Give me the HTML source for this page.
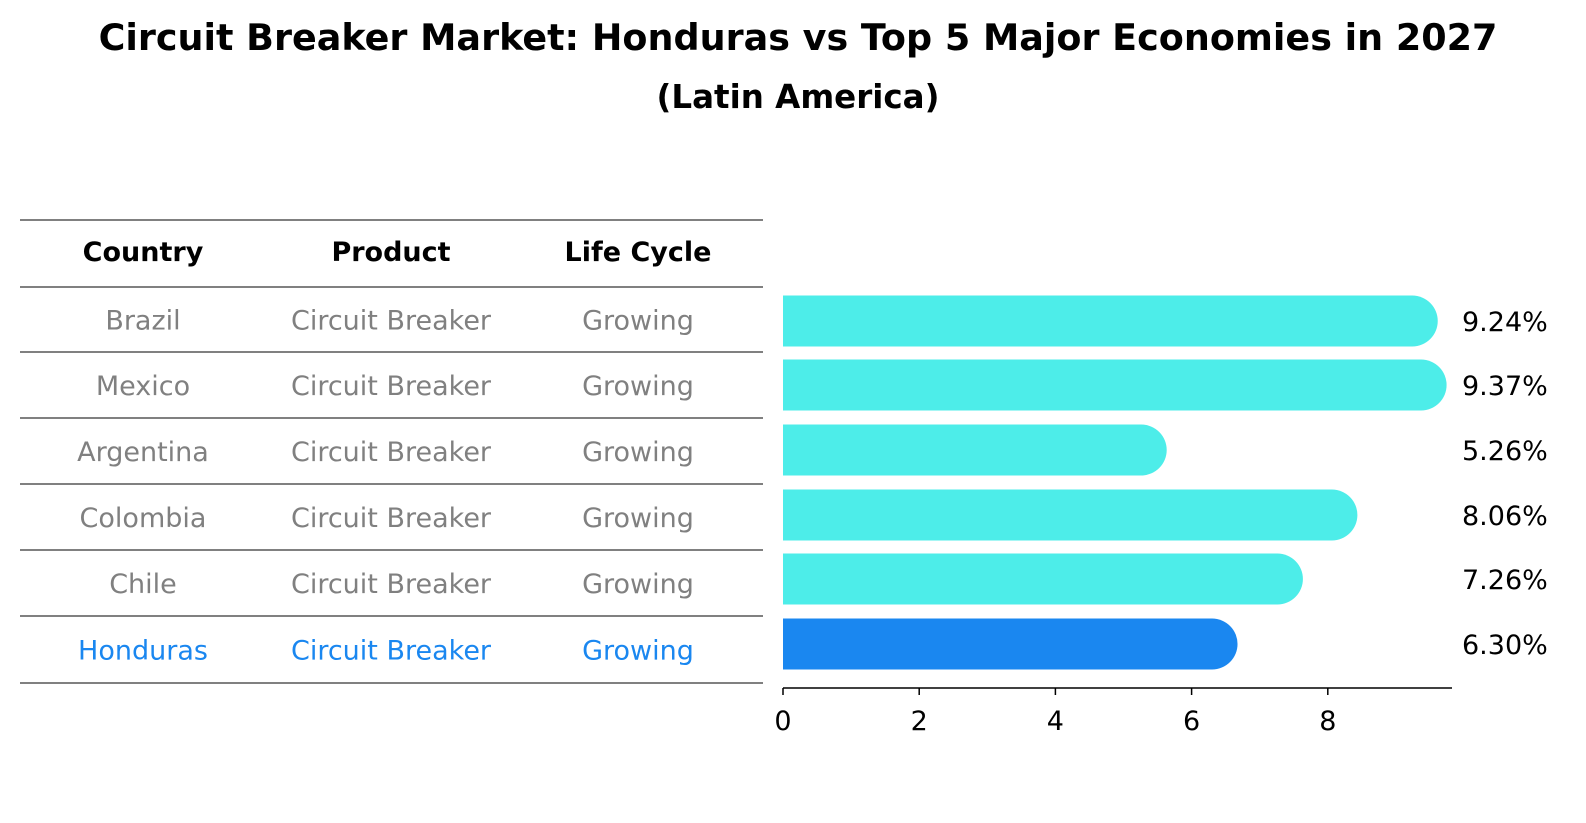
<!DOCTYPE html>
<html><head><meta charset="utf-8"><style>
html,body{margin:0;padding:0;overflow:hidden;background:#fff;font-family:"DejaVu Sans","Liberation Sans",sans-serif}
svg{display:block}
</style></head><body>
<svg id="c" width="1586" height="823" xmlns="http://www.w3.org/2000/svg" font-family="'DejaVu Sans', 'Liberation Sans', sans-serif">
<text x="798" y="50" text-anchor="middle" font-size="36.5" font-weight="bold">Circuit Breaker Market: Honduras vs Top 5 Major Economies in 2027</text>
<text x="798" y="108" text-anchor="middle" font-size="32.5" font-weight="bold">(Latin America)</text>
<g id="tbl"></g>
<g id="bars"></g>
</svg>
<script>
const countries=["Brazil","Mexico","Argentina","Colombia","Chile","Honduras"];
const values=[9.24,9.37,5.26,8.06,7.26,6.30];
const labels=["9.24%","9.37%","5.26%","8.06%","7.26%","6.30%"];
const ticks=[0,2,4,6,8];
const NS="http://www.w3.org/2000/svg";
function mk(t,a,p){const e=document.createElementNS(NS,t);for(const k in a)e.setAttribute(k,a[k]);p.appendChild(e);return e;}
const tbl=document.getElementById('tbl'),bars=document.getElementById('bars');
const lineYs=[220,287,352,418,484,550,616,683];
lineYs.forEach(y=>{const l=mk('line',{x1:20,x2:763,y1:y,y2:y,stroke:'#000','stroke-width':1},tbl);

});
const cx=[143,391,638];
["Country","Product","Life Cycle"].forEach((h,i)=>{const t=mk('text',{x:cx[i],y:261,'text-anchor':'middle','font-size':27,'font-weight':'bold'},tbl);t.textContent=h;

});
countries.forEach((c,r)=>{const y=(lineYs[r+1]+lineYs[r+2])/2+10;const col=c==="Honduras"?"#1a87f0":"#808080";
[c,"Circuit Breaker","Growing"].forEach((v,i)=>{const t=mk('text',{x:cx[i],y:y,'text-anchor':'middle','font-size':27,fill:col},tbl);t.textContent=v;

});});
const x0=783,px=68.1,xs=v=>x0+v*px;
const centers=[321,385,450,515,579,644],h=51;
values.forEach((v,i)=>{const col=countries[i]==="Honduras"?"#1a87f0":"#4dede9";const y=centers[i]-h/2;const r=h/2;
const w=xs(v)-x0;
const p=mk('path',{d:`M${x0},${y} H${x0+w} A${r},${r} 0 0 1 ${x0+w},${y+h} H${x0} Z`,fill:col},bars);


const t=mk('text',{x:1462,y:centers[i]+10,'font-size':27},bars);t.textContent=labels[i];

});
const ax=mk('line',{x1:783,x2:1452,y1:688,y2:688,stroke:'#000','stroke-width':1.5},bars);


ticks.forEach(v=>{const tk=mk('line',{x1:xs(v),x2:xs(v),y1:688,y2:695,stroke:'#000','stroke-width':1.5},bars);


const t=mk('text',{x:xs(v),y:730,'text-anchor':'middle','font-size':27},bars);t.textContent=v;

});
</script>
</body></html>
